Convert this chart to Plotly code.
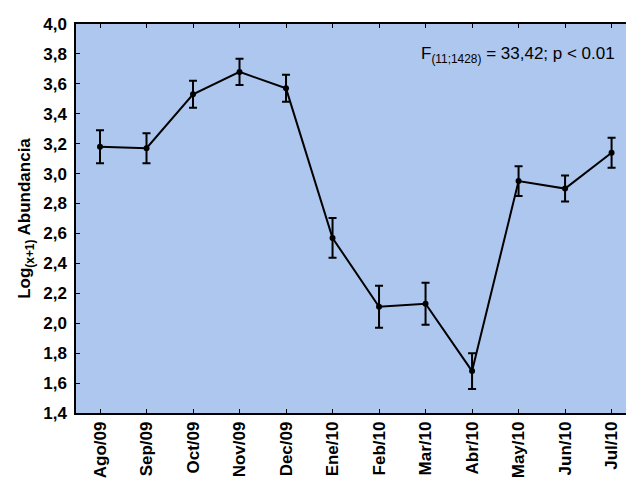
import plotly.graph_objects as go

months = ["Ago/09", "Sep/09", "Oct/09", "Nov/09", "Dec/09", "Ene/10",
          "Feb/10", "Mar/10", "Abr/10", "May/10", "Jun/10", "Jul/10"]
means = [3.18, 3.17, 3.53, 3.68, 3.57, 2.57, 2.11, 2.13, 1.68, 2.95, 2.90, 3.14]
errs = [0.11, 0.10, 0.09, 0.087, 0.09, 0.133, 0.14, 0.14, 0.12, 0.10, 0.087, 0.10]
y_ticks = [1.4, 1.6, 1.8, 2.0, 2.2, 2.4, 2.6, 2.8, 3.0, 3.2, 3.4, 3.6, 3.8, 4.0]
y_ticktext = ["1,4", "1,6", "1,8", "2,0", "2,2", "2,4", "2,6", "2,8", "3,0",
              "3,2", "3,4", "3,6", "3,8", "4,0"]
stat_text = "F<sub>(11;1428)</sub> = 33,42; p < 0.01"

xs = list(range(len(months)))
FONT = "Liberation Sans, Arial, sans-serif"

fig = go.Figure()
fig.add_trace(go.Scatter(
    x=xs, y=means, mode="lines+markers",
    line=dict(color="black", width=2),
    marker=dict(color="black", size=6),
    error_y=dict(type="data", array=errs, visible=True, color="black",
                 thickness=2, width=4),
    showlegend=False,
))

fig.add_annotation(
    x=11.12, y=3.79, xref="x", yref="y", text=stat_text, showarrow=False,
    xanchor="right", yanchor="middle",
    font=dict(family=FONT, size=17, color="black"),
)

fig.update_layout(
    width=626, height=483,
    margin=dict(l=76, r=0, t=24, b=70),
    paper_bgcolor="white",
    plot_bgcolor="#ADC7EE",
    font=dict(family=FONT, color="black"),
    xaxis=dict(
        range=[-0.516, 11.31],
        tickmode="array", tickvals=xs, ticktext=months,
        tickangle=-90,
        tickfont=dict(size=17, family=FONT, weight="bold"),
        ticks="inside", ticklen=4, tickcolor="black", tickwidth=1,
        showline=True, linecolor="black", linewidth=1.5, mirror="ticks",
        showgrid=False, zeroline=False,
    ),
    yaxis=dict(
        range=[1.4, 4.0],
        tickmode="array", tickvals=y_ticks, ticktext=y_ticktext,
        tickfont=dict(size=17, family=FONT, weight="bold"),
        ticks="inside", ticklen=4, tickcolor="black", tickwidth=1,
        ticklabelstandoff=4,
        showline=True, linecolor="black", linewidth=1.5,
        showgrid=False, zeroline=False,
        title=dict(text="Log<sub>(x+1)</sub> Abundancia",
                   font=dict(size=17, family=FONT, weight="bold"),
                   standoff=8),
    ),
)

fig.write_html("out.html")
